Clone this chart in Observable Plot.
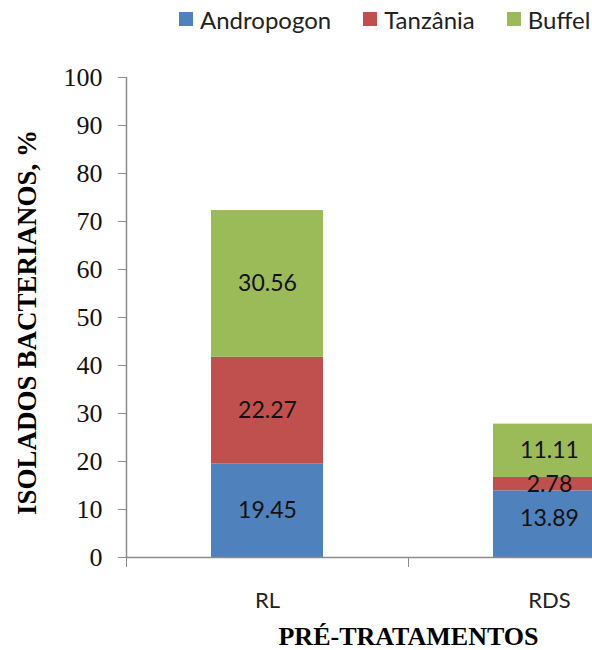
<!DOCTYPE html>
<html>
<head>
<meta charset="utf-8">
<script src="https://cdn.jsdelivr.net/npm/d3@7"></script>
<script src="https://cdn.jsdelivr.net/npm/@observablehq/plot@0.6"></script>
<style>
  html, body { margin: 0; padding: 0; background: #fff; }
  #wrap { position: relative; width: 592px; height: 650px; overflow: hidden; background: #fff; }
  #legend { position: absolute; top: 5px; left: 179px; height: 28px; display: flex; align-items: center; gap: 32px;
            font-family: Lato, "Open Sans", sans-serif; font-size: 24px; color: #222; }
  #legend .item { display: flex; align-items: center; gap: 7px; }
  #legend .sw { width: 14px; height: 14px; display: inline-block; }
  #wrap svg { position: absolute; left: 0; top: 0; overflow: hidden; }
</style>
</head>
<body>
<div id="wrap"><div id="legend"></div></div>
<script>
// ---- data ----
const categories = ["RL", "RDS"];
const seriesNames = ["Andropogon", "Tanzânia", "Buffel"];
const andropogon = [19.45, 13.89];
const tanzania = [22.27, 2.78];
const buffel = [30.56, 11.11];
const yTicks = [0, 10, 20, 30, 40, 50, 60, 70, 80, 90, 100];
const yTitle = "ISOLADOS BACTERIANOS, %";
const xTitle = "PRÉ-TRATAMENTOS";

// ---- styling ----
const colors = ["#4F81BD", "#C0504D", "#9BBB59"];
const axisGray = "#8c8c8c";
const barInset = 0.3014; // fraction of category slot left empty on each side
const labelDy = {"RDS|Andropogon": -6};

const seriesValues = [andropogon, tanzania, buffel];
const rows = [];
categories.forEach((c, i) => {
  let acc = 0;
  seriesNames.forEach((s, k) => {
    const v = seriesValues[k][i];
    rows.push({cat: c, i, series: s, value: v, y1: acc, y2: acc + v});
    acc += v;
  });
});

const labelMarks = rows.map(r => Plot.text([r], {
  x: d => d.i + 0.5,
  y: d => (d.y1 + d.y2) / 2,
  text: d => d.value.toFixed(2),
  fontFamily: "Lato, 'Open Sans', sans-serif",
  fontSize: 23,
  fill: "#111",
  dy: labelDy[r.cat + "|" + r.series] || 0
}));

const chart = Plot.plot({
  width: 592,
  height: 650,
  marginTop: 77,
  marginBottom: 93,
  marginLeft: 126,
  marginRight: 0,
  x: {type: "linear", domain: [0, categories.length], range: [126, 690]},
  y: {domain: [0, 100]},
  color: {domain: seriesNames, range: colors},
  marks: [
    Plot.rectY(rows, {
      x1: d => d.i + barInset,
      x2: d => d.i + 1 - barInset,
      y1: "y1",
      y2: "y2",
      fill: "series"
    }),
    ...labelMarks,
    Plot.ruleY([0], {stroke: axisGray, strokeWidth: 1.5}),
    Plot.ruleX([0], {y1: 0, y2: 100, stroke: axisGray, strokeWidth: 1.5}),
    Plot.axisY({
      ticks: yTicks, tickSize: 8, tickPadding: 16, label: null,
      stroke: axisGray, fill: "#111",
      fontSize: 26, fontFamily: "'Liberation Serif', 'Times New Roman', serif"
    }),
    Plot.axisX({
      ticks: d3.range(categories.length + 1), tickSize: 10, tickFormat: () => "",
      label: null, stroke: axisGray
    }),
    Plot.axisX({
      ticks: categories.map((c, i) => i + 0.5), tickSize: 0, tickPadding: 35,
      tickFormat: d => categories[Math.floor(d)], label: null,
      fill: "#222", fontSize: 22, fontFamily: "Lato, 'Open Sans', sans-serif"
    }),
    Plot.text([yTitle], {
      frameAnchor: "left", textAnchor: "middle", lineAnchor: "middle",
      rotate: -90, dx: -99, dy: 5,
      fontSize: 27, fontWeight: "bold", fill: "#000",
      fontFamily: "'Liberation Serif', 'Times New Roman', serif"
    }),
    Plot.text([xTitle], {
      x: () => categories.length / 2, frameAnchor: "bottom",
      textAnchor: "middle", lineAnchor: "middle", dy: 79,
      fontSize: 26, fontWeight: "bold", fill: "#000",
      fontFamily: "'Liberation Serif', 'Times New Roman', serif"
    })
  ]
});

const wrap = document.getElementById("wrap");
wrap.appendChild(chart);

const legend = document.getElementById("legend");
seriesNames.forEach((s, k) => {
  const item = document.createElement("div");
  item.className = "item";
  const sw = document.createElement("span");
  sw.className = "sw";
  sw.style.background = colors[k];
  const t = document.createElement("span");
  t.textContent = s;
  item.appendChild(sw);
  item.appendChild(t);
  legend.appendChild(item);
});
</script>
</body>
</html>
